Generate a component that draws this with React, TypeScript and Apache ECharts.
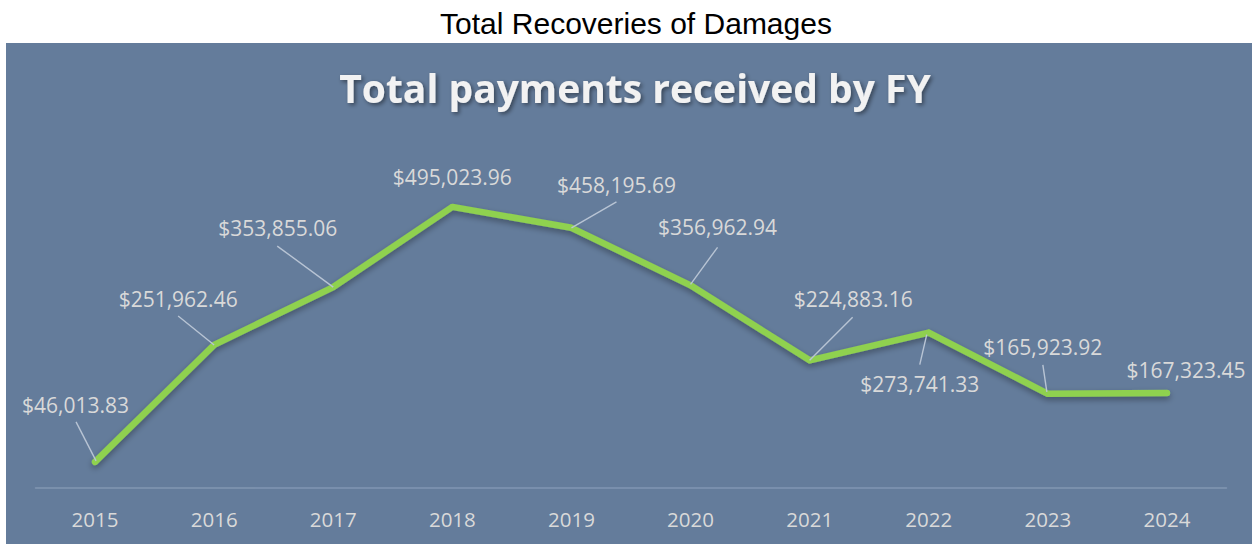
import React, { useEffect, useRef } from "react";
import * as echarts from "echarts";

const years = ["2015", "2016", "2017", "2018", "2019", "2020", "2021", "2022", "2023", "2024"];
const payments = [46013.83, 251962.46, 353855.06, 495023.96, 458195.69, 356962.94, 224883.16, 273741.33, 165923.92, 167323.45];

// label centre offsets relative to each point (style only)
const labelDx = [-19.5, -36, -55.5, 0, 45, 27, 43.5, -9, -5, 19];
const labelDy = [-57, -46, -59, -30, -43, -58, -61, 51, -47, -23];
// leader line start (near label) and end (at point), relative to each point (style only)
const guideStart: (number[] | null)[] = [[-19, -40], [-36, -29], [-56, -41], null, [45, -26], [27, -38], [43, -43], [-9, 32], [-5, -29], null];
const guideEnd: (number[] | null)[] = [[1, -1], [0, 0], [0, 0], null, [0, 0], [0, -1], [0, 0], [-2, 2], [-1, -2], null];

const fmt = (v: number) =>
  "$" + v.toLocaleString("en-US", { minimumFractionDigits: 2, maximumFractionDigits: 2 });

export default function App() {
  const ref = useRef<HTMLDivElement>(null);
  useEffect(() => {
    if (!ref.current) return;
    const chart = echarts.init(ref.current, null, { renderer: "svg" });
    const font = "'Open Sans', 'Noto Sans', sans-serif";
    chart.setOption({
      animation: false,
      backgroundColor: "#ffffff",
      title: [
        {
          text: "Total Recoveries of Damages",
          left: 631,
          textAlign: "center",
          top: 3,
          textStyle: { fontFamily: "'Liberation Sans', Arial, sans-serif", fontSize: 30, fontWeight: "normal", color: "#000000" },
        },
        {
          text: "Total payments received by FY",
          left: 630,
          textAlign: "center",
          top: 63,
          textStyle: {
            fontFamily: font,
            fontSize: 39,
            fontWeight: "bold",
            color: "#f2f2f2",
            textShadowColor: "rgba(0,0,0,0.45)",
            textShadowBlur: 4,
            textShadowOffsetX: 2,
            textShadowOffsetY: 2,
          },
        },
      ],
      graphic: [
        {
          type: "rect",
          z: -10,
          silent: true,
          shape: { x: 6, y: 43, width: 1246, height: 501 },
          style: { fill: "#647c9b" },
        },
      ],
      grid: { left: 35.5, right: 25.5, top: 147.3, bottom: 56, containLabel: false },
      xAxis: {
        type: "category",
        data: years,
        boundaryGap: true,
        axisLine: { show: true, lineStyle: { color: "#8196b3", width: 1.5 } },
        axisTick: { show: false },
        axisLabel: { color: "#d9d9d9", fontFamily: font, fontSize: 20.5, margin: 20 },
        splitLine: { show: false },
      },
      yAxis: {
        type: "value",
        min: 0,
        max: 600000,
        show: false,
        splitLine: { show: false },
      },
      series: [
        {
          type: "line",
          z: 2,
          data: payments,
          symbol: "circle",
          symbolSize: 6,
          showSymbol: true,
          itemStyle: { color: "#8fd14f" },
          lineStyle: {
            color: "#8fd14f",
            width: 6.5,
            cap: "round",
            join: "round",
            shadowColor: "rgba(0,0,0,0.35)",
            shadowBlur: 6,
            shadowOffsetY: 3,
          },
          label: {
            show: true,
            position: "inside",
            formatter: (p: any) => fmt(p.value),
            color: "#d9d9d9",
            fontFamily: font,
            fontSize: 21,
          },
          labelLayout: (p: any) => ({
            dx: labelDx[p.dataIndex],
            dy: labelDy[p.dataIndex],
          }),
        },
        {
          type: "custom",
          z: 5,
          silent: true,
          data: payments.map((v, i) => [i, v]),
          renderItem: (params: any, api: any) => {
            const i = params.dataIndex;
            const s = guideStart[i];
            const e = guideEnd[i];
            if (!s || !e) return null;
            const pt = api.coord([api.value(0), api.value(1)]);
            return {
              type: "line",
              shape: { x1: pt[0] + s[0], y1: pt[1] + s[1], x2: pt[0] + e[0], y2: pt[1] + e[1] },
              style: { stroke: "#b8c4d4", lineWidth: 1.4 },
            };
          },
        },
      ],
    });
    return () => chart.dispose();
  }, []);
  return (
    <div
      ref={ref}
      style={{ position: "absolute", left: 0, top: 0, width: 1252, height: 544 }}
    />
  );
}
